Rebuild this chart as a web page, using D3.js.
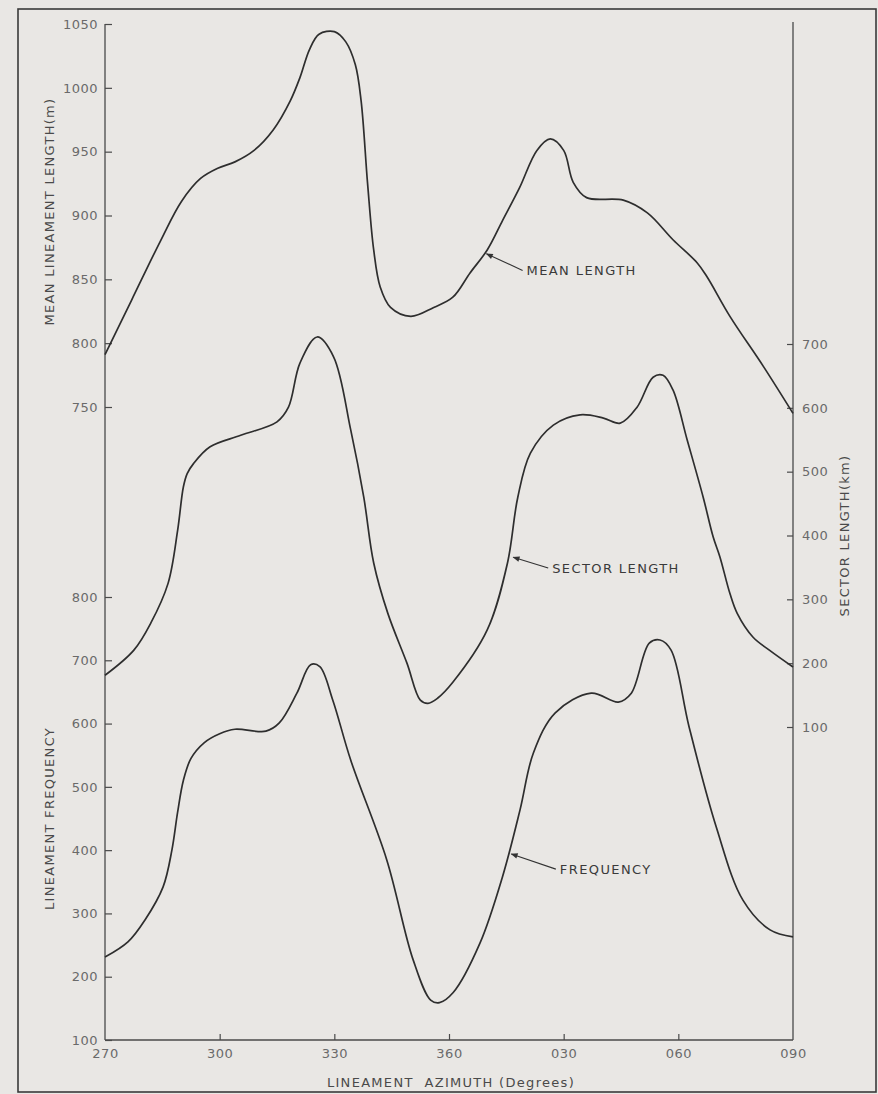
<!DOCTYPE html>
<html>
<head>
<meta charset="utf-8">
<script src="https://cdn.jsdelivr.net/npm/d3@7"></script>
<style>
  body { margin: 0; background: #e9e7e4; }
  svg { display: block; font-family: "DejaVu Sans", sans-serif; }
</style>
</head>
<body>
<div id="chart"></div>
<script>
// mean lineament length (m) vs azimuth (270..450 = 270..090)
const meanAz  = [270, 277, 284.5, 290, 295, 299.5, 304, 309, 314, 318.5, 321, 323.5, 326, 330, 333, 335.5, 337, 338.7, 340.3, 342, 344.7, 350, 356, 361, 365.5, 370, 374, 378.5, 383, 386.5, 390, 392.5, 396, 405.6, 411.9, 418.6, 424.9, 427.5, 433.5, 442.2, 450];
const meanLen = [791, 834, 880, 911, 929, 937, 942, 951, 967, 990, 1008, 1030, 1042, 1044, 1036, 1018, 990, 925, 873, 844, 828, 821, 828, 836, 855, 873, 896, 922, 951, 960, 951, 926, 914, 912, 902, 881, 863, 852, 821, 782, 745];

// sector length (km)
const sectorAz  = [270, 277.5, 282, 286.5, 289, 290.5, 291.5, 293.2, 297.5, 305.5, 315, 318, 321, 325.5, 329.8, 334.3, 337.7, 340.3, 344, 349, 352.5, 354.5, 357, 361, 370, 375.3, 378, 381.3, 387.3, 394.3, 400.4, 404.8, 409.2, 413.4, 416, 418.6, 422.3, 426.5, 429.1, 430.9, 433.5, 435.4, 439.5, 443.9, 450];
const sectorLen = [181, 220, 263, 325, 408, 476, 497, 513, 539, 557, 578, 601, 670, 711, 680, 565, 460, 357, 278, 200, 142, 137, 145, 170, 252, 357, 460, 529, 573, 589, 584, 576, 601, 648, 651, 628, 550, 460, 398, 366, 309, 278, 241, 220, 194];

// lineament frequency
const freqAz    = [270, 276, 280.5, 285.2, 287.5, 289, 290.5, 292.5, 296, 300, 304, 312.1, 315.6, 320.2, 323.8, 326.2, 329.6, 334.3, 343.7, 350.6, 355.2, 357.5, 361.1, 368.1, 374, 378.6, 382.1, 387.8, 397.2, 404.3, 407.7, 412.4, 415.2, 418.1, 422.8, 429.9, 436.9, 444, 450];
const freqCount = [231, 255, 290, 342, 400, 460, 510, 545, 570, 584, 591, 588, 601, 648, 693, 690, 637, 542, 385, 227, 163, 159, 175, 253, 358, 464, 554, 617, 648, 634, 648, 727, 732, 716, 595, 437, 321, 274, 263];

const xTicks = [270, 300, 330, 360, 390, 420, 450];
const xTickLabels = ['270', '300', '330', '360', '030', '060', '090'];
const meanTicks = [750, 800, 850, 900, 950, 1000, 1050];
const freqTicks = [100, 200, 300, 400, 500, 600, 700, 800];
const sectorTicks = [100, 200, 300, 400, 500, 600, 700];

// curve labels: arrow tip on the curve, text start (azimuth, value in the curve's own units)
const labelNames = ['MEAN LENGTH', 'SECTOR LENGTH', 'FREQUENCY'];
const labelTipAz = [369.8, 376.8, 376.3];
const labelTipVal = [870, 366, 394];
const labelTextAz = [380.3, 387, 389];
const labelTextVal = [857, 349, 370];

const width = 878;
const height = 1094;

const svg = d3.select('#chart')
    .append('svg')
    .attr('width', width)
    .attr('height', height);

svg.append('rect')
    .attr('width', width).attr('height', height)
    .attr('fill', '#e9e7e4');

// outer frame
svg.append('rect')
    .attr('x', 18).attr('y', 9)
    .attr('width', 858).attr('height', 1083)
    .attr('fill', 'none')
    .attr('stroke', '#3a3a3a')
    .attr('stroke-width', 1.6);

const x = d3.scaleLinear().domain([270, 450]).range([105, 793]);
const yMean = d3.scaleLinear().domain([750, 1050]).range([407, 24]);
const ySector = d3.scaleLinear().domain([100, 700]).range([727, 344]);
const yFreq = d3.scaleLinear().domain([100, 800]).range([1040, 597]);

const axisColor = '#4a4a4a';
const tickText = '#6a6a6a';

function styleAxis(g) {
    g.select('.domain').remove();
    g.selectAll('line').attr('stroke', axisColor).attr('stroke-width', 1.2);
    g.selectAll('text')
        .attr('fill', tickText)
        .attr('font-size', '13px')
        .attr('font-family', '"DejaVu Sans", sans-serif')
        .attr('letter-spacing', '0.5px');
}

// axis lines
svg.append('line')
    .attr('x1', x(270)).attr('x2', x(270))
    .attr('y1', yMean(1050)).attr('y2', yFreq(100))
    .attr('stroke', axisColor).attr('stroke-width', 1.3);
svg.append('line')
    .attr('x1', x(450)).attr('x2', x(450))
    .attr('y1', 22).attr('y2', yFreq(100))
    .attr('stroke', axisColor).attr('stroke-width', 1.3);
svg.append('line')
    .attr('x1', x(270)).attr('x2', x(450))
    .attr('y1', yFreq(100)).attr('y2', yFreq(100))
    .attr('stroke', axisColor).attr('stroke-width', 1.3);

svg.append('g')
    .attr('transform', `translate(${x(270)},0)`)
    .call(d3.axisLeft(yMean).tickValues(meanTicks).tickSize(-7).tickPadding(7)
        .tickFormat(d3.format('d')))
    .call(styleAxis);

svg.append('g')
    .attr('transform', `translate(${x(270)},0)`)
    .call(d3.axisLeft(yFreq).tickValues(freqTicks).tickSize(-7).tickPadding(7)
        .tickFormat(d3.format('d')))
    .call(styleAxis);

svg.append('g')
    .attr('transform', `translate(${x(450)},0)`)
    .call(d3.axisRight(ySector).tickValues(sectorTicks).tickSize(-6).tickPadding(9)
        .tickFormat(d3.format('d')))
    .call(styleAxis);

svg.append('g')
    .attr('transform', `translate(0,${yFreq(100)})`)
    .call(d3.axisBottom(x).tickValues(xTicks).tickSize(-6).tickPadding(9)
        .tickFormat((d, i) => xTickLabels[i]))
    .call(styleAxis)
    .call(g => g.selectAll('.tick')
        .filter(d => d === 270 || d === 450)
        .select('line').remove());

// axis titles
const titleStyle = t => t
    .attr('fill', '#4a4a4a')
    .attr('font-size', '13px')
    .attr('letter-spacing', '1.3px')
    .attr('text-anchor', 'middle');

svg.append('text')
    .attr('transform', `translate(54,${(yMean(1000) + yMean(800)) / 2 - 4}) rotate(-90)`)
    .text('MEAN LINEAMENT LENGTH(m)')
    .call(titleStyle);

svg.append('text')
    .attr('transform', `translate(54,${yFreq(450)}) rotate(-90)`)
    .text('LINEAMENT FREQUENCY')
    .call(titleStyle);

svg.append('text')
    .attr('transform', `translate(849,${ySector(400)}) rotate(-90)`)
    .text('SECTOR LENGTH(km)')
    .call(titleStyle);

svg.append('text')
    .attr('x', (x(330) + x(390)) / 2 + 2)
    .attr('y', 1087)
    .text('LINEAMENT  AZIMUTH (Degrees)')
    .call(titleStyle)
    .attr('xml:space', 'preserve');

// curves
const series = [
    {az: meanAz, val: meanLen, y: yMean},
    {az: sectorAz, val: sectorLen, y: ySector},
    {az: freqAz, val: freqCount, y: yFreq}
];

series.forEach(s => {
    const line = d3.line()
        .x(i => x(s.az[i]))
        .y(i => s.y(s.val[i]))
        .curve(d3.curveCatmullRom.alpha(0.5));
    svg.append('path')
        .attr('d', line(d3.range(s.az.length)))
        .attr('fill', 'none')
        .attr('stroke', '#2e2e2e')
        .attr('stroke-width', 1.7)
        .attr('stroke-linejoin', 'round');
});

// curve labels with arrows
svg.append('defs').append('marker')
    .attr('id', 'arrow')
    .attr('viewBox', '0 0 10 10')
    .attr('refX', 9).attr('refY', 5)
    .attr('markerWidth', 9).attr('markerHeight', 7)
    .attr('markerUnits', 'userSpaceOnUse')
    .attr('orient', 'auto')
    .append('path')
    .attr('d', 'M0,1 L10,5 L0,9 Z')
    .attr('fill', '#333');

labelNames.forEach((name, i) => {
    const ys = series[i].y;
    const tx = x(labelTextAz[i]);
    const ty = ys(labelTextVal[i]);
    svg.append('line')
        .attr('x1', tx - 4).attr('y1', ty)
        .attr('x2', x(labelTipAz[i])).attr('y2', ys(labelTipVal[i]))
        .attr('stroke', '#333')
        .attr('stroke-width', 1.1)
        .attr('marker-end', 'url(#arrow)');
    svg.append('text')
        .attr('x', tx).attr('y', ty)
        .attr('dy', '0.36em')
        .attr('fill', '#3a3a3a')
        .attr('font-size', '13px')
        .attr('letter-spacing', '1.4px')
        .text(name);
});
</script>
</body>
</html>
